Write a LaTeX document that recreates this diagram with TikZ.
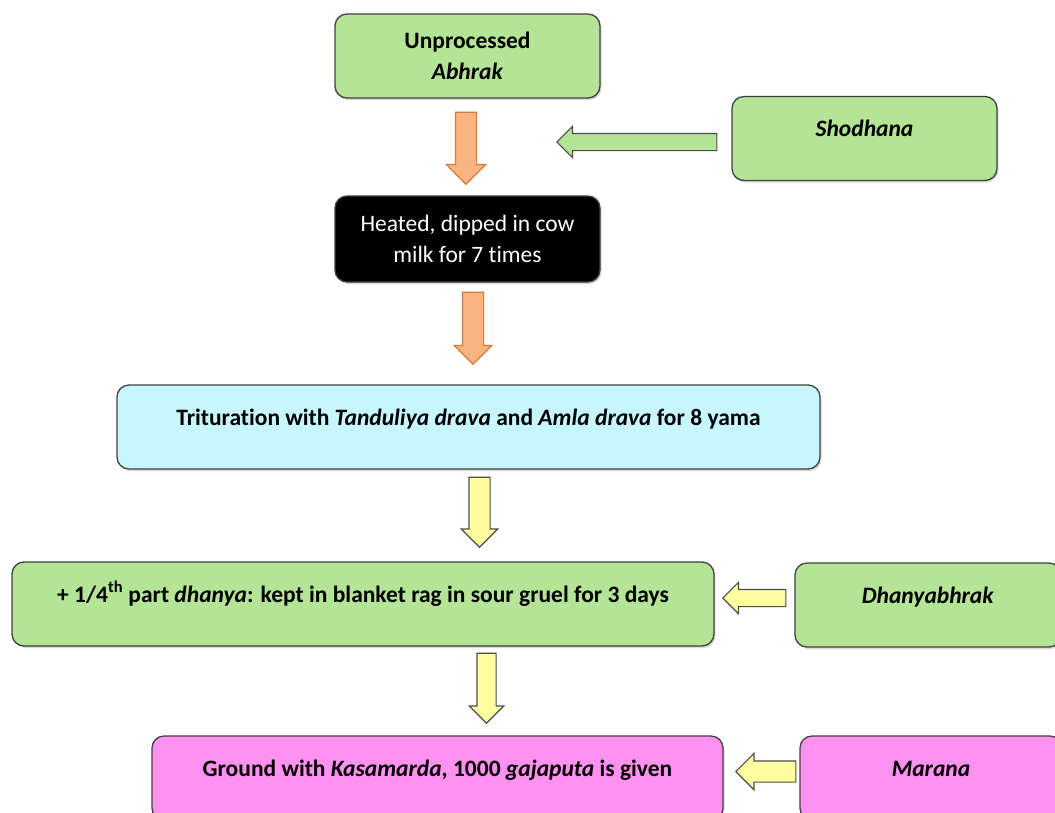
\documentclass[tikz,border=0pt]{standalone}
\usepackage{fontspec}
\setmainfont[Ligatures=NoCommon]{Carlito}
\usetikzlibrary{positioning,calc,shapes.arrows,shadows}
\definecolor{boxgreen}{RGB}{180,228,150}
\definecolor{boxcyan}{RGB}{200,246,255}
\definecolor{boxpink}{RGB}{255,145,240}
\definecolor{arrorange}{RGB}{250,180,130}
\definecolor{arrorangedark}{RGB}{215,120,60}
\definecolor{arryellow}{RGB}{255,255,160}
\tikzset{
  box/.style={draw=black!75, line width=1.3pt, rounded corners=12pt, inner sep=0pt,
    align=center, font=\fontsize{23.5}{31}\selectfont\bfseries,
    drop shadow={shadow xshift=1.5pt, shadow yshift=-2pt, opacity=.3}},
  topbox/.style={box, text height=40pt, text depth=44pt},
  arr/.style={single arrow, anchor=tip, inner sep=0pt, line width=1.2pt,
    single arrow head indent=0pt},
  arrdown/.style={arr, rotate=-90},
  arrleft/.style={arr, rotate=180}
}

\begin{document}
\begin{tikzpicture}[x=1pt,y=-1pt]
  \clip (0,0) rectangle (1055,812);

  % boxes
  \node [box, fill=boxgreen, minimum width=265pt, minimum height=84pt] (unproc) at (467.5,56)
    {Unprocessed\\ \textit{Abhrak}};
  \node [topbox, fill=boxgreen, minimum width=265pt] (shodh) at (864.5,138.5) {\textit{Shodhana}};
  \node [box, fill=black, text=white, font=\fontsize{23.5}{31}\selectfont,
    minimum width=265pt, minimum height=86pt] (heat) at (467.5,239)
    {Heated, dipped in cow\\ milk for 7 times};
  \node [topbox, fill=boxcyan, minimum width=703pt] (trit) at (468.5,427)
    {Trituration with \textit{Tanduliya drava} and \textit{Amla drava} for 8 yama};
  \node [topbox, fill=boxgreen, minimum width=702pt] (dhanya) at (363,604)
    {+ 1/4\textsuperscript{th} part \textit{dhanya}: kept in blanket rag in sour gruel for 3 days};
  \node [topbox, fill=boxgreen, minimum width=266pt] (dhanyab) at (928,605) {\textit{Dhanyabhrak}};
  \node [topbox, fill=boxpink, minimum width=571pt] (ground) at (437.5,778)
    {Ground with \textit{Kasamarda}, 1000 \textit{gajaputa} is given};
  \node [topbox, fill=boxpink, minimum width=262pt] (marana) at (931,778) {\textit{Marana}};

  % orange arrows
  \node [arrdown, fill=arrorange, draw=arrorangedark, minimum height=72pt, minimum width=38pt,
    inner ysep=10pt, single arrow head extend=9pt] (a1) at (466,185) {};
  \node [arrdown, fill=arrorange, draw=arrorangedark, minimum height=72pt, minimum width=36pt,
    inner ysep=10pt, single arrow head extend=8pt] (a2) at (473,365) {};

  % side arrows
  \node [arrleft, fill=boxgreen, draw=black!70, minimum height=160pt, minimum width=30pt,
    inner ysep=8pt, single arrow head extend=7pt] (a3) at (556,142) {};
  \node [arrleft, fill=arryellow, draw=black!70, minimum height=63pt, minimum width=30pt,
    inner ysep=8pt, single arrow head extend=7pt] (a4) at (722,598) {};
  \node [arrleft, fill=arryellow, draw=black!70, minimum height=60pt, minimum width=35pt,
    inner ysep=10pt, single arrow head extend=7.5pt] (a5) at (735,771.5) {};

  % yellow arrows
  \node [arrdown, fill=arryellow, draw=black!70, minimum height=70pt, minimum width=35pt,
    inner ysep=10pt, single arrow head extend=7.5pt] (a6) at (479.5,548) {};
  \node [arrdown, fill=arryellow, draw=black!70, minimum height=70pt, minimum width=33pt,
    inner ysep=9pt, single arrow head extend=7.5pt] (a7) at (486.5,724) {};
\end{tikzpicture}
\end{document}
